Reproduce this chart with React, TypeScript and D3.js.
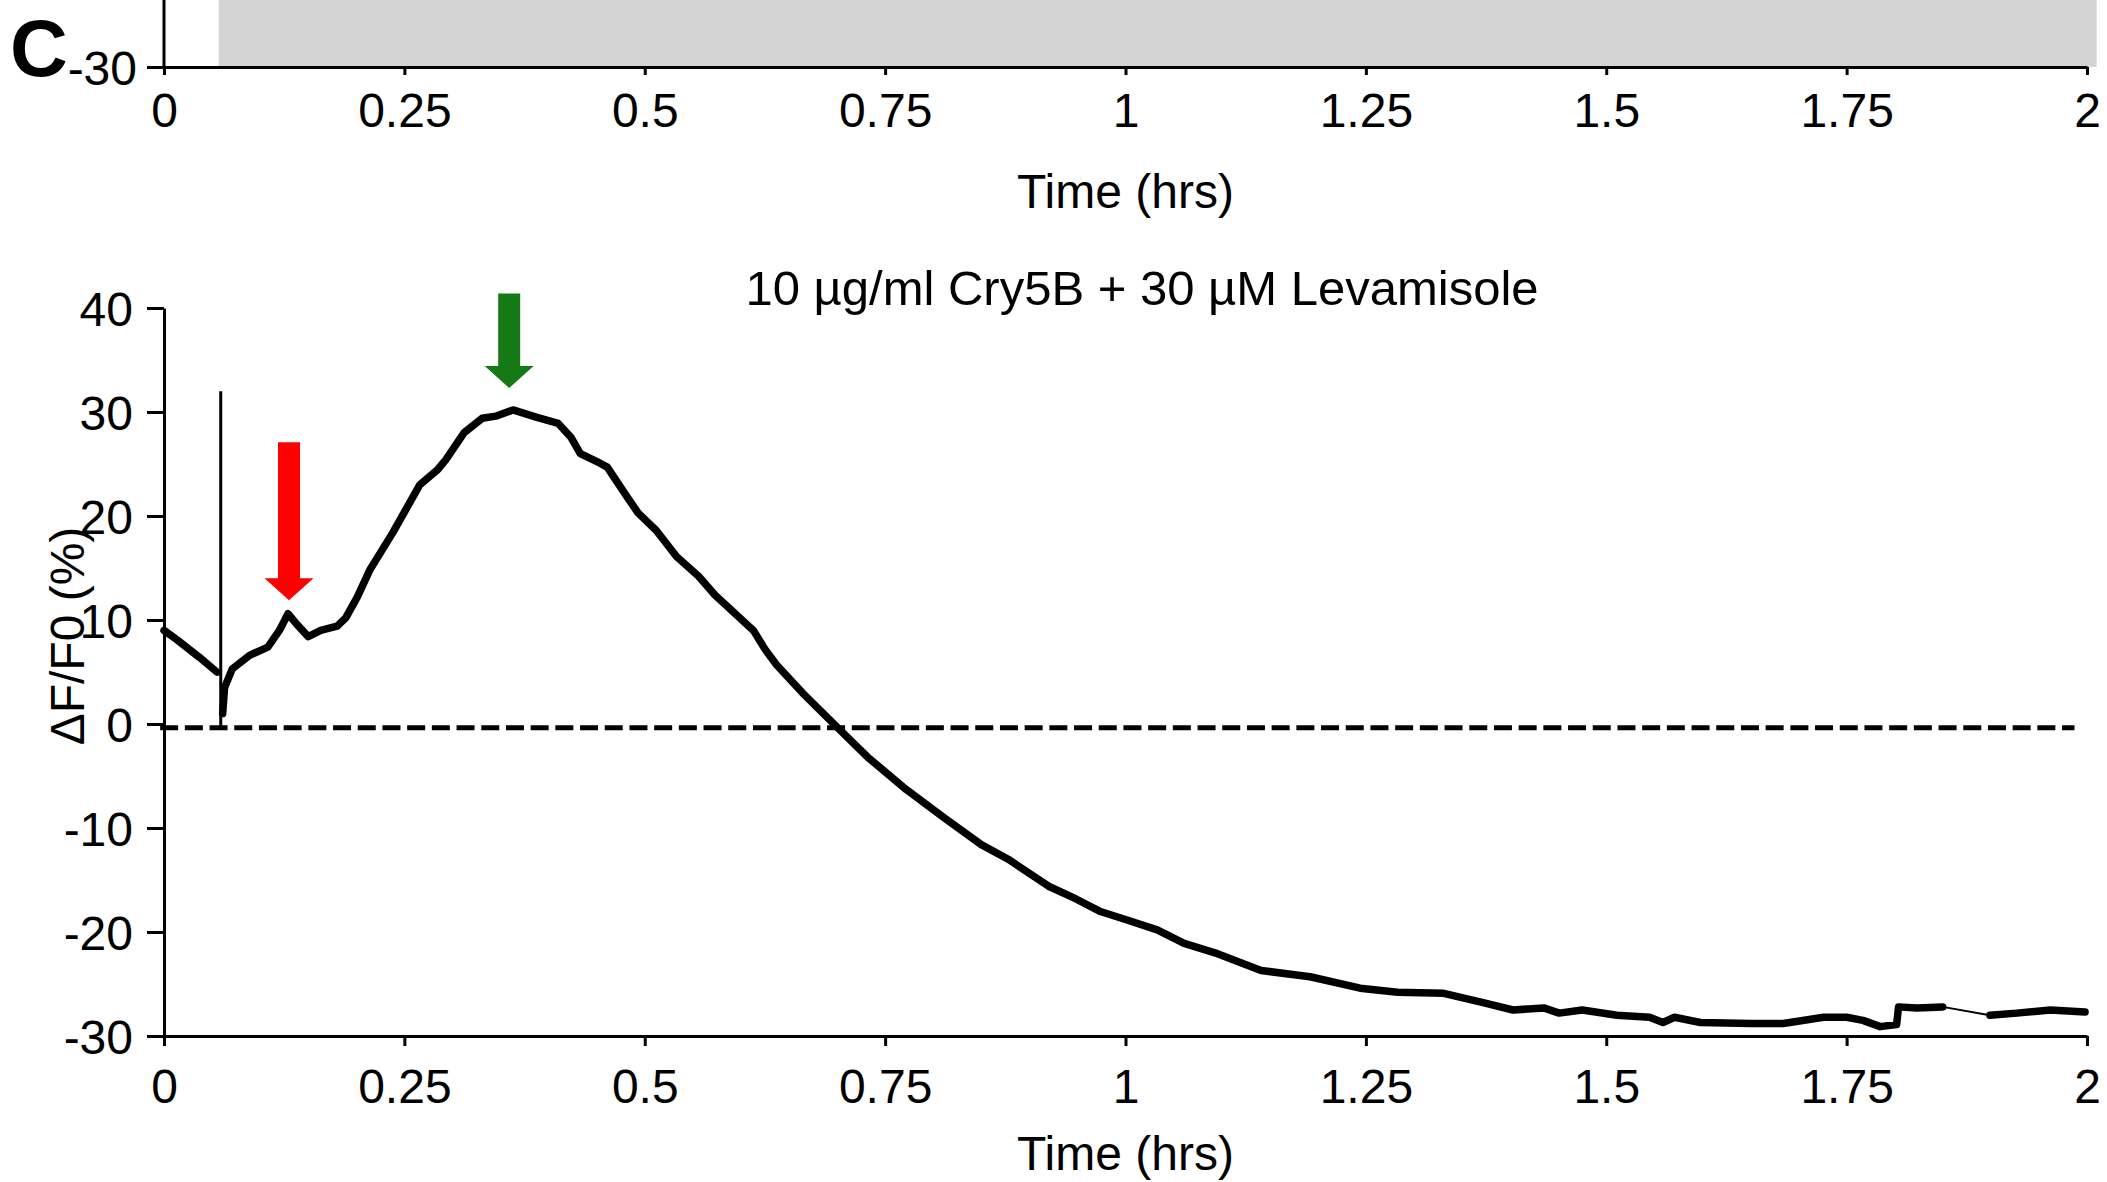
import React, { useRef, useEffect } from 'react';
import * as d3 from 'd3';

// time (hrs), dF/F0 (%)
const traceBefore: [number, number][] = [
  [0, 9.0], [0.0135, 8.1], [0.037, 6.4], [0.055, 5.0],
];
const spike: [number, number][] = [[0.059, -0.3], [0.059, 32.0]];
const traceMain: [number, number][] = [
  [0.061, 1.0], [0.063, 3.5], [0.071, 5.3], [0.089, 6.6], [0.108, 7.4], [0.12, 9.0],
  [0.129, 10.6], [0.138, 9.6], [0.15, 8.4], [0.163, 9.0], [0.18, 9.4], [0.189, 10.2],
  [0.201, 12.2], [0.214, 14.8], [0.238, 18.4], [0.266, 23.0], [0.284, 24.4], [0.293, 25.4],
  [0.312, 28.0], [0.331, 29.4], [0.345, 29.6], [0.363, 30.2], [0.387, 29.5], [0.41, 28.9],
  [0.423, 27.6], [0.433, 26.0], [0.453, 25.1], [0.461, 24.7], [0.479, 22.2], [0.493, 20.3],
  [0.512, 18.6], [0.533, 16.1], [0.556, 14.2], [0.573, 12.4], [0.613, 9.0], [0.625, 7.2],
  [0.637, 5.7], [0.664, 3.0], [0.7, -0.3], [0.732, -3.2], [0.772, -6.3], [0.811, -9.0],
  [0.85, -11.6], [0.878, -13.0], [0.92, -15.6], [0.948, -16.8], [0.973, -18.0], [1.0, -18.8],
  [1.033, -19.8], [1.061, -21.1], [1.093, -22.0], [1.141, -23.7], [1.192, -24.3], [1.244, -25.4],
  [1.283, -25.8], [1.331, -25.9], [1.372, -26.8], [1.403, -27.5], [1.435, -27.3], [1.451, -27.8],
  [1.475, -27.5], [1.511, -28.0], [1.545, -28.2], [1.559, -28.7], [1.571, -28.2], [1.598, -28.7],
  [1.65, -28.8], [1.684, -28.8], [1.726, -28.2], [1.75, -28.2], [1.767, -28.5], [1.785, -29.1],
  [1.802, -28.9], [1.804, -27.2], [1.823, -27.3], [1.85, -27.2],
];
const traceGap: [number, number][] = [[1.85, -27.2], [1.899, -28.0]];
const traceAfter: [number, number][] = [
  [1.899, -28.0], [1.927, -27.8], [1.962, -27.5], [1.998, -27.7],
];
const zeroLine: [number, number][] = [[-0.004, -0.35], [1.987, -0.35]];

// arrows: time, tip value, tail value
const arrows = [
  { t: 0.13, tip: 11.9, tail: 27.1, color: '#ff0000' },
  { t: 0.359, tip: 32.3, tail: 41.4, color: '#157a15' },
];

const xTicks = [0, 0.25, 0.5, 0.75, 1, 1.25, 1.5, 1.75, 2];
const xTickLabels = ['0', '0.25', '0.5', '0.75', '1', '1.25', '1.5', '1.75', '2'];
const yTicks = [-30, -20, -10, 0, 10, 20, 30, 40];

// upper panel (only its bottom edge is in view)
const topShade = { from: 0.057, to: 2.01, low: -30, high: -20 };
const topTrace: [number, number][] = [[1.982, -22.0], [1.982, -22.9]];

const title = '10 µg/ml Cry5B + 30 µM Levamisole';
const FONT = '"Liberation Sans", Arial, sans-serif';

const App = () => {
  const ref = useRef<SVGSVGElement>(null);

  useEffect(() => {
    const svg = d3.select(ref.current);
    svg.selectAll('*').remove();

    const width = 2107;
    const height = 1182;
    svg.append('rect').attr('width', width).attr('height', height).attr('fill', 'white');

    const x = d3.scaleLinear().domain([0, 2]).range([164, 2087]);
    const y = d3.scaleLinear().domain([-30, 40]).range([1036, 308]);
    const yTop = d3.scaleLinear().domain([-30, -20]).range([67, -37]);

    const fmtX = (d: any) => xTickLabels[xTicks.indexOf(d)];

    // ---- upper panel remnant
    const top = svg.append('g');
    top.append('rect')
      .attr('x', x(topShade.from))
      .attr('y', yTop(topShade.high))
      .attr('width', x(topShade.to) - x(topShade.from))
      .attr('height', yTop(topShade.low) - yTop(topShade.high))
      .attr('fill', '#d4d4d4');

    const lineTop = d3.line<[number, number]>().x(d => x(d[0])).y(d => yTop(d[1]));
    top.append('path').attr('d', lineTop(topTrace)).attr('stroke', 'black')
      .attr('stroke-width', 5).attr('fill', 'none');

    const topX = top.append('g')
      .attr('transform', `translate(0,${yTop(-30)})`)
      .call(d3.axisBottom(x).tickValues(xTicks).tickSize(8).tickSizeOuter(0).tickPadding(18).tickFormat(fmtX));
    const topY = top.append('g')
      .attr('transform', `translate(${x(0)},0)`)
      .call(d3.axisLeft(yTop).tickValues([-30]).tickSize(17).tickSizeOuter(0).tickPadding(10).tickFormat(d => String(d)));
    topY.select('.domain').attr('d', `M0,0V${yTop(-30)}`);

    top.append('text')
      .attr('x', x(1)).attr('y', 208)
      .attr('text-anchor', 'middle')
      .text('Time (hrs)');

    top.append('text')
      .attr('x', 10).attr('y', 76)
      .attr('font-weight', 'bold')
      .attr('font-size', 80)
      .text('C');

    // ---- main panel
    const main = svg.append('g');

    main.append('text')
      .attr('x', 1142).attr('y', 305)
      .attr('text-anchor', 'middle')
      .attr('font-size', 49)
      .text(title);

    const bx = main.append('g')
      .attr('transform', `translate(0,${y(-30)})`)
      .call(d3.axisBottom(x).tickValues(xTicks).tickSize(10).tickSizeOuter(0).tickPadding(23).tickFormat(fmtX));
    const by = main.append('g')
      .attr('transform', `translate(${x(0)},0)`)
      .call(d3.axisLeft(y).tickValues(yTicks).tickSize(17).tickSizeOuter(0).tickPadding(14).tickFormat(d => String(d)));

    main.append('text')
      .attr('x', x(1)).attr('y', 1170)
      .attr('text-anchor', 'middle')
      .text('Time (hrs)');

    main.append('text')
      .attr('transform', `translate(84,${636}) rotate(-90)`)
      .attr('text-anchor', 'middle')
      .text('ΔF/F0 (%)');

    const line = d3.line<[number, number]>().x(d => x(d[0])).y(d => y(d[1]));

    main.append('path').attr('d', line(zeroLine))
      .attr('stroke', 'black').attr('stroke-width', 5)
      .attr('stroke-dasharray', '18 6.7').attr('fill', 'none');

    main.append('path').attr('d', line(spike))
      .attr('stroke', 'black').attr('stroke-width', 3).attr('fill', 'none');

    [traceBefore, traceMain, traceAfter].forEach(seg => {
      main.append('path').attr('d', line(seg))
        .attr('stroke', 'black').attr('stroke-width', 7.5)
        .attr('stroke-linejoin', 'round').attr('stroke-linecap', 'round')
        .attr('fill', 'none');
    });
    main.append('path').attr('d', line(traceGap))
      .attr('stroke', 'black').attr('stroke-width', 2).attr('fill', 'none');

    // arrows
    const shaftW = 11;
    const headW = 24.5;
    const headH = 22;
    arrows.forEach(a => {
      const cx = x(a.t);
      const tipY = y(a.tip);
      const tailY = y(a.tail);
      const pts = [
        [cx - shaftW, tailY], [cx + shaftW, tailY], [cx + shaftW, tipY - headH],
        [cx + headW, tipY - headH], [cx, tipY], [cx - headW, tipY - headH],
        [cx - shaftW, tipY - headH],
      ];
      main.append('polygon')
        .attr('points', pts.map(p => p.join(',')).join(' '))
        .attr('fill', a.color);
    });

    // styling of all axes and text
    [topX, topY, bx, by].forEach(g => {
      g.attr('font-family', FONT).attr('font-size', 48);
      g.select('.domain').attr('stroke', 'black').attr('stroke-width', 3);
      g.selectAll('.tick line').attr('stroke', 'black').attr('stroke-width', 3);
      g.selectAll('.tick text').attr('fill', 'black');
    });
    [topY, by].forEach(g => g.selectAll('.tick text').attr('dy', '0.36em'));
    svg.selectAll('text').filter(function () {
      return !(this as Element).closest('.tick');
    }).attr('font-family', FONT).each(function () {
      const el = d3.select(this);
      if (!el.attr('font-size')) el.attr('font-size', 48);
    });
  }, []);

  return (
    <svg
      ref={ref}
      width="2107"
      height="1182"
      style={{ position: 'absolute', left: 0, top: 0 }}
    ></svg>
  );
};

export default App;
